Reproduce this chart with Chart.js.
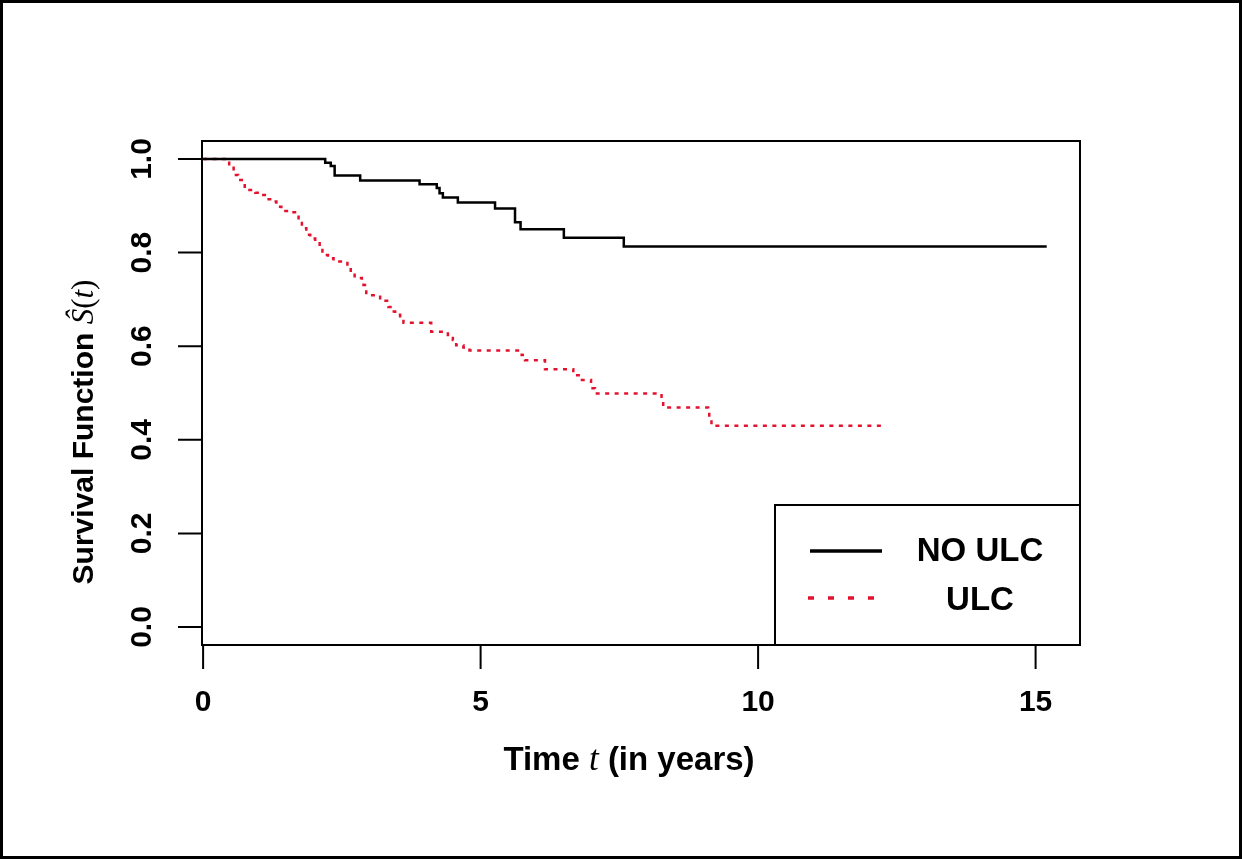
<!DOCTYPE html>
<html>
<head>
<meta charset="utf-8">
<script src="https://cdn.jsdelivr.net/npm/chart.js@4.4.1/dist/chart.umd.min.js"></script>
<style>
  html, body { margin: 0; padding: 0; background: #fff; }
  #wrap { width: 1242px; height: 859px; }
</style>
</head>
<body>
<div id="wrap"><canvas id="km" width="1242" height="859"></canvas></div>
<script>
// Kaplan-Meier estimates (time in years, survival)
const noUlcTime = [0, 2.2, 2.3, 2.37, 2.83, 3.9, 4.21, 4.26, 4.32, 4.59, 5.26, 5.62, 5.72, 6.5, 7.58, 15.2];
const noUlcSurv = [1.0, 0.992, 0.985, 0.965, 0.954, 0.946, 0.938, 0.927, 0.918, 0.907, 0.894, 0.865, 0.85, 0.832, 0.813, 0.813];

const ulcTime = [0, 0.47, 0.55, 0.63, 0.75, 0.94, 1.02, 1.14, 1.23, 1.32, 1.41, 1.56, 1.69, 1.72, 1.78, 1.86, 1.93, 2.02,
  2.1, 2.15, 2.25, 2.35, 2.6, 2.66, 2.73, 2.86, 2.89, 2.94, 3.19, 3.34, 3.4, 3.46, 3.55, 3.61, 4.11, 4.41, 4.5, 4.56,
  4.69, 4.8, 5.74, 5.8, 6.16, 6.67, 6.79, 6.99, 7.06, 8.26, 8.29, 9.1, 9.12, 9.16, 12.23];
const ulcSurv = [1.0, 0.985, 0.966, 0.955, 0.934, 0.928, 0.923, 0.914, 0.909, 0.898, 0.889, 0.886, 0.88, 0.866, 0.852, 0.838, 0.83, 0.823,
  0.809, 0.795, 0.788, 0.781, 0.771, 0.757, 0.746, 0.741, 0.731, 0.709, 0.697, 0.684, 0.674, 0.667, 0.66, 0.65, 0.631, 0.624, 0.613, 0.602,
  0.597, 0.591, 0.581, 0.57, 0.551, 0.538, 0.528, 0.51, 0.499, 0.481, 0.469, 0.46, 0.442, 0.43, 0.43];

const xTicks = [0, 5, 10, 15];
const yTicks = [0, 0.2, 0.4, 0.6, 0.8, 1.0];
const yTickLabels = ["0.0", "0.2", "0.4", "0.6", "0.8", "1.0"];
const legendLabels = ["NO ULC", "ULC"];

const RED = "#e3122f";
const SANS = "'Liberation Sans', Arial, sans-serif";
const SERIF = "'Liberation Serif', 'Times New Roman', serif";

function toPoints(t, s) {
  return t.map((v, i) => ({ x: v, y: s[i] }));
}

// axes, box, titles, legend and frame (R base-graphics look)
const rDecor = {
  id: "rDecor",
  afterDraw(chart) {
    const ctx = chart.ctx;
    const a = chart.chartArea;
    const xs = chart.scales.x, ys = chart.scales.y;
    ctx.save();
    ctx.strokeStyle = "#000";
    ctx.fillStyle = "#000";

    // plot box
    ctx.lineWidth = 2;
    ctx.strokeRect(a.left, a.top, a.right - a.left, a.bottom - a.top);

    // x axis ticks
    ctx.font = "bold 30px " + SANS;
    ctx.textAlign = "center";
    ctx.textBaseline = "middle";
    ctx.beginPath();
    ctx.moveTo(xs.getPixelForValue(xTicks[0]), a.bottom);
    ctx.lineTo(xs.getPixelForValue(xTicks[xTicks.length - 1]), a.bottom);
    xTicks.forEach((v) => {
      const px = xs.getPixelForValue(v);
      ctx.moveTo(px, a.bottom);
      ctx.lineTo(px, a.bottom + 24);
    });
    ctx.stroke();
    xTicks.forEach((v) => {
      ctx.fillText(String(v), xs.getPixelForValue(v), 703);
    });

    // y axis ticks (labels parallel to the axis)
    ctx.beginPath();
    ctx.moveTo(a.left, ys.getPixelForValue(yTicks[0]));
    ctx.lineTo(a.left, ys.getPixelForValue(yTicks[yTicks.length - 1]));
    yTicks.forEach((v) => {
      const py = ys.getPixelForValue(v);
      ctx.moveTo(a.left, py);
      ctx.lineTo(a.left - 24, py);
    });
    ctx.stroke();
    yTicks.forEach((v, i) => {
      ctx.save();
      ctx.translate(143, ys.getPixelForValue(v));
      ctx.rotate(-Math.PI / 2);
      ctx.fillText(yTickLabels[i], 0, 0);
      ctx.restore();
    });

    // x title: Time t (in years)
    const parts = [
      { t: "Time ", f: "bold 33px " + SANS },
      { t: "t", f: "italic 35px " + SERIF },
      { t: " (in years)", f: "bold 33px " + SANS },
    ];
    drawParts(ctx, parts, 629, 761, 0);

    // y title: Survival Function S-hat(t)
    const yparts = [
      { t: "Survival Function ", f: "bold 30px " + SANS },
      { t: "\u015C", f: "italic 31px " + SERIF },
      { t: "(", f: "31px " + SERIF },
      { t: "t", f: "italic 31px " + SERIF },
      { t: ")", f: "31px " + SERIF },
    ];
    drawParts(ctx, yparts, 85, 432, -Math.PI / 2);

    // legend
    const lx = 775, ly = 505;
    ctx.lineWidth = 2;
    ctx.fillStyle = "#fff";
    ctx.fillRect(lx, ly, a.right - lx, a.bottom - ly);
    ctx.strokeRect(lx, ly, a.right - lx, a.bottom - ly);
    ctx.lineWidth = 3.5;
    ctx.strokeStyle = "#000";
    ctx.beginPath();
    ctx.moveTo(810, 551);
    ctx.lineTo(882, 551);
    ctx.stroke();
    ctx.strokeStyle = RED;
    ctx.setLineDash([6, 14]);
    ctx.beginPath();
    ctx.moveTo(808, 598);
    ctx.lineTo(882, 598);
    ctx.stroke();
    ctx.setLineDash([]);
    ctx.fillStyle = "#000";
    ctx.font = "bold 33px " + SANS;
    ctx.textAlign = "center";
    ctx.fillText(legendLabels[0], 980, 552);
    ctx.fillText(legendLabels[1], 980, 601);

    // outer frame
    ctx.lineWidth = 3;
    ctx.strokeStyle = "#000";
    ctx.strokeRect(1.5, 1.5, chart.width - 3, chart.height - 3);
    ctx.restore();
  }
};

function drawParts(ctx, parts, cx, cy, rot) {
  let total = 0;
  parts.forEach((p) => { ctx.font = p.f; p.w = ctx.measureText(p.t).width; total += p.w; });
  ctx.save();
  ctx.translate(cx, cy);
  ctx.rotate(rot);
  ctx.textAlign = "left";
  ctx.textBaseline = "middle";
  let x = -total / 2;
  parts.forEach((p) => {
    ctx.font = p.f;
    ctx.fillText(p.t, x, 0);
    x += p.w;
  });
  ctx.restore();
}

new Chart(document.getElementById("km"), {
  type: "line",
  data: {
    datasets: [
      {
        label: legendLabels[0],
        data: toPoints(noUlcTime, noUlcSurv),
        borderColor: "#000",
        borderWidth: 2.5,
        stepped: true,
        pointRadius: 0,
        fill: false,
      },
      {
        label: legendLabels[1],
        data: toPoints(ulcTime, ulcSurv),
        borderColor: RED,
        borderWidth: 2.5,
        borderDash: [4, 5.5],
        stepped: true,
        pointRadius: 0,
        fill: false,
      },
    ],
  },
  options: {
    responsive: false,
    animation: false,
    devicePixelRatio: 1,
    layout: { padding: { left: 202, top: 141, right: 162, bottom: 214 } },
    plugins: { legend: { display: false }, tooltip: { enabled: false } },
    scales: {
      x: { type: "linear", min: -0.02, max: 15.8, display: false },
      y: { type: "linear", min: -0.0385, max: 1.0385, display: false },
    },
  },
  plugins: [rDecor],
});
</script>
</body>
</html>
